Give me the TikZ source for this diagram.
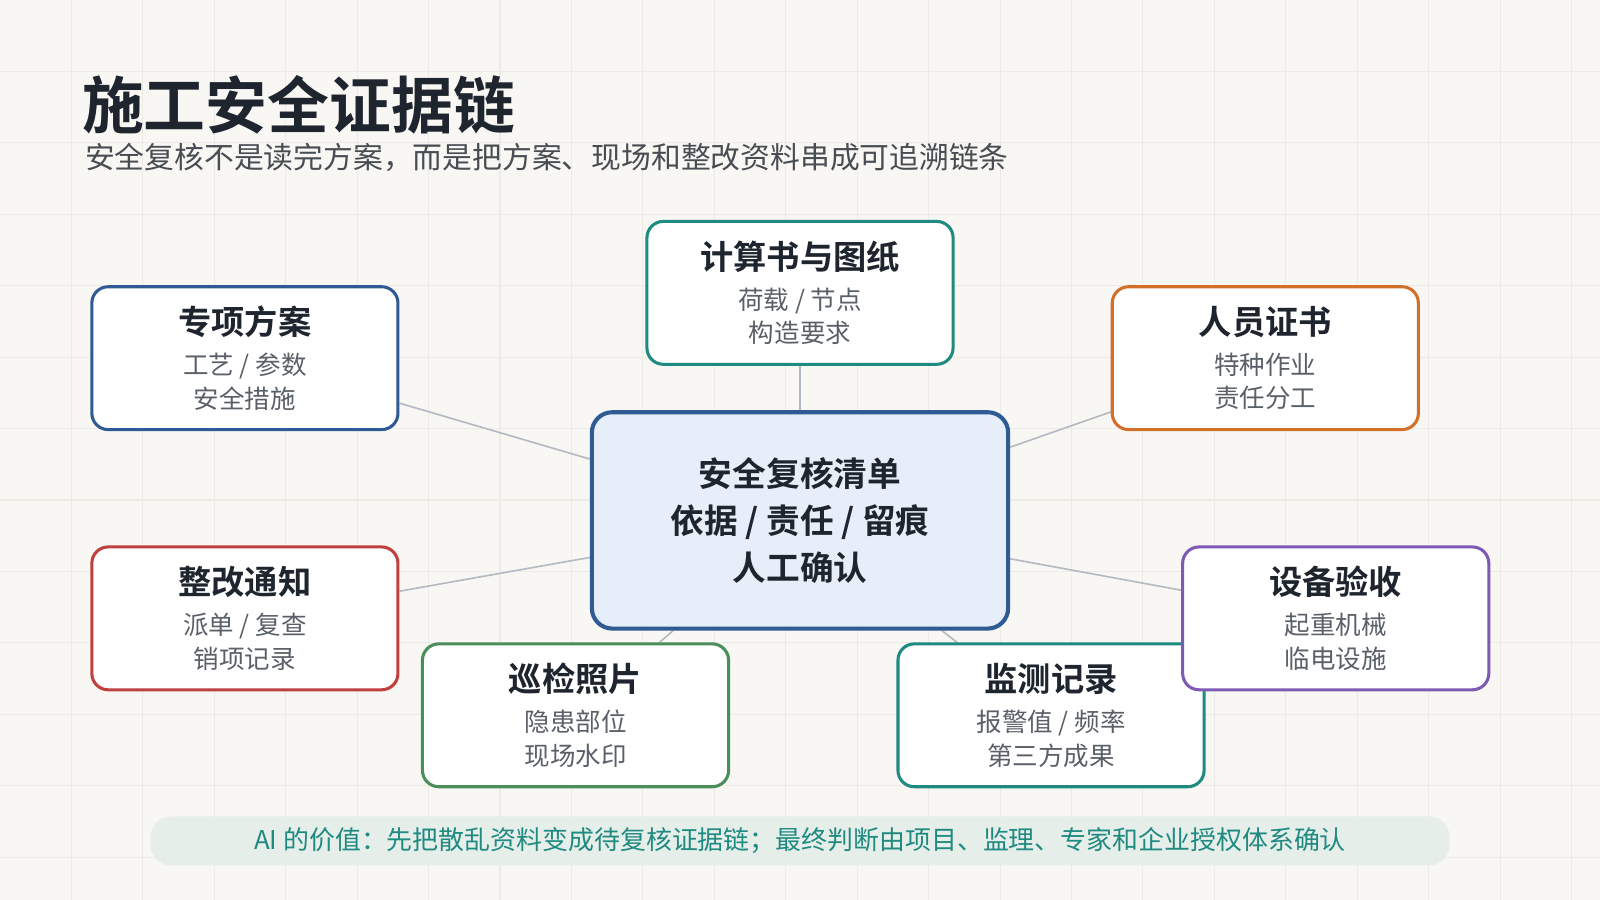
\documentclass[tikz,border=0pt]{standalone}
\usepackage{fontspec}
\setmainfont{Noto Sans CJK SC}
\newfontfamily\cjkbold{Noto Sans CJK SC Bold}
\usetikzlibrary{positioning,backgrounds}
\definecolor{bgpaper}{HTML}{F8F7F3}
\definecolor{gridln}{HTML}{ECEBE6}
\definecolor{inkdark}{HTML}{1E252E}
\definecolor{inkgray}{HTML}{5A6068}
\definecolor{cblue}{HTML}{2F5A94}
\definecolor{cteal}{HTML}{1F8A80}
\definecolor{corange}{HTML}{D2702A}
\definecolor{cred}{HTML}{C04040}
\definecolor{cgreen}{HTML}{4A8F5A}
\definecolor{cpurple}{HTML}{7E5AB5}
\definecolor{hubfill}{HTML}{E6EEF9}
\definecolor{notefill}{HTML}{E6EEEA}
\definecolor{linkgray}{HTML}{B4BAC2}
\tikzset{
  card/.style={draw=#1, line width=1.5pt, rounded corners=8pt, fill=white,
    minimum width=150pt, minimum height=70pt, align=center, inner sep=0pt,
    text=inkgray, font=\fontsize{12.5}{16.5}\selectfont},
  hub/.style={draw=cblue, line width=2pt, rounded corners=10pt, fill=hubfill,
    minimum width=204pt, minimum height=106pt, align=center,
    font=\cjkbold\fontsize{16.5}{23}\selectfont, text=inkdark},
  link/.style={draw=linkgray, line width=0.8pt},
}
\newcommand{\cardhead}[1]{\textcolor{inkdark}{\cjkbold\fontsize{16.3}{19}\selectfont #1}}
\begin{document}
\begin{tikzpicture}[x=0.5pt,y=-0.5pt]
  \useasboundingbox (0,0) rectangle (1568,882);

  \node[anchor=west, font=\cjkbold\fontsize{30.3}{32}\selectfont, text=inkdark, inner sep=0pt]
    (title) at (80,103) {施工安全证据链};
  \node[anchor=west, font=\fontsize{14.6}{16}\selectfont, text=inkgray!80!black, inner sep=0pt]
    (subtitle) at (83,154) {安全复核不是读完方案，而是把方案、现场和整改资料串成可追溯链条};

  % hub and cards
  \node[hub] (hub) at (784,510) {安全复核清单\\依据 / 责任 / 留痕\\人工确认};
  \node[card=cteal] (calc) at (784,287) {\cardhead{计算书与图纸}\\[3pt]荷载 / 节点\\构造要求};
  \node[card=cblue] (plan) at (240,351) {\cardhead{专项方案}\\[3pt]工艺 / 参数\\安全措施};
  \node[card=corange] (staff) at (1240,351) {\cardhead{人员证书}\\[3pt]特种作业\\责任分工};
  \node[card=cred] (notice) at (240,606) {\cardhead{整改通知}\\[3pt]派单 / 复查\\销项记录};
  \node[card=cgreen] (photo) at (564,701) {\cardhead{巡检照片}\\[3pt]隐患部位\\现场水印};
  \node[card=cteal] (monitor) at (1030,701) {\cardhead{监测记录}\\[3pt]报警值 / 频率\\第三方成果};
  \node[card=cpurple] (equip) at (1309,606) {\cardhead{设备验收}\\[3pt]起重机械\\临电设施};

  \node[fill=notefill, rounded corners=10pt, minimum width=636.5pt, minimum height=24pt,
    text=cteal, font=\fontsize{12.7}{14}\selectfont] (note) at (784,824)
    {AI 的价值：先把散乱资料变成待复核证据链；最终判断由项目、监理、专家和企业授权体系确认};

  \begin{pgfonlayer}{background}
    \fill[bgpaper] (0,0) rectangle (1568,882);
    % faint grid
    \foreach \gx in {70,140,...,1540} \draw[gridln, line width=0.5pt] (\gx,0) -- (\gx,882);
    \foreach \gy in {70,140,...,880} \draw[gridln, line width=0.5pt] (0,\gy) -- (1568,\gy);
    \foreach \n in {calc,plan,staff,notice,photo,monitor,equip}
      \draw[link] (hub) -- (\n);
  \end{pgfonlayer}
\end{tikzpicture}
\end{document}
